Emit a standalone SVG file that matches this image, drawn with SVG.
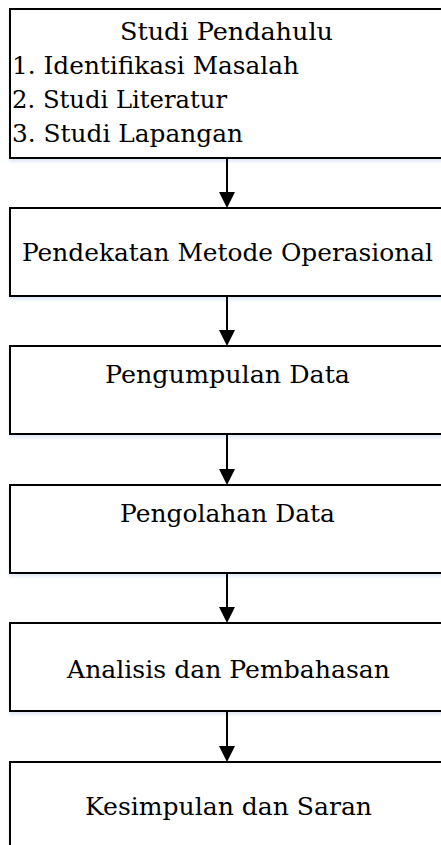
<svg xmlns="http://www.w3.org/2000/svg" width="441" height="845" viewBox="0 0 441 845">
  <style>
    .box { fill: #ffffff; stroke: #000000; stroke-width: 2; }
    .lbl { font-family: "DejaVu Serif", "Liberation Serif", serif; font-size: 24px; fill: #000000; }
    .conn { stroke: #000000; stroke-width: 2; fill: none; }
    .head { fill: #000000; }
  </style>
  <defs>
    <filter id="haze" x="-5%" y="-5%" width="110%" height="120%">
      <feDropShadow dx="0" dy="3" stdDeviation="1.5" flood-color="#c8d6ec" flood-opacity="0.5"/>
    </filter>
  </defs>
  <rect width="441" height="845" fill="#ffffff"/>

  <g id="node-studi-pendahulu">
    <rect class="box" x="10" y="9" width="440" height="149" filter="url(#haze)"/>
    <text class="lbl" x="120" y="40" textLength="213" lengthAdjust="spacingAndGlyphs">Studi Pendahulu</text>
    <text class="lbl" x="12" y="74" textLength="287" lengthAdjust="spacingAndGlyphs">1. Identifikasi Masalah</text>
    <text class="lbl" x="12" y="108" textLength="215" lengthAdjust="spacingAndGlyphs">2. Studi Literatur</text>
    <text class="lbl" x="12" y="142" textLength="231" lengthAdjust="spacingAndGlyphs">3. Studi Lapangan</text>
  </g>

  <g id="node-pendekatan">
    <rect class="box" x="10" y="208" width="440" height="88" filter="url(#haze)"/>
    <text class="lbl" x="22" y="261" textLength="411" lengthAdjust="spacingAndGlyphs">Pendekatan Metode Operasional</text>
  </g>

  <g id="node-pengumpulan">
    <rect class="box" x="10" y="346" width="440" height="88" filter="url(#haze)"/>
    <text class="lbl" x="105" y="383" textLength="245" lengthAdjust="spacingAndGlyphs">Pengumpulan Data</text>
  </g>

  <g id="node-pengolahan">
    <rect class="box" x="10" y="485" width="440" height="88" filter="url(#haze)"/>
    <text class="lbl" x="120" y="522" textLength="215" lengthAdjust="spacingAndGlyphs">Pengolahan Data</text>
  </g>

  <g id="node-analisis">
    <rect class="box" x="10" y="623" width="440" height="88" filter="url(#haze)"/>
    <text class="lbl" x="67" y="678" textLength="323" lengthAdjust="spacingAndGlyphs">Analisis dan Pembahasan</text>
  </g>

  <g id="node-kesimpulan">
    <rect class="box" x="10" y="762" width="440" height="100" filter="url(#haze)"/>
    <text class="lbl" x="85" y="815" textLength="287" lengthAdjust="spacingAndGlyphs">Kesimpulan dan Saran</text>
  </g>

  <g id="connectors">
    <line class="conn" x1="227" y1="159" x2="227" y2="194"/>
    <polygon class="head" points="219,192 235,192 227,208"/>
    <line class="conn" x1="227" y1="297" x2="227" y2="332"/>
    <polygon class="head" points="219,330 235,330 227,346"/>
    <line class="conn" x1="227" y1="435" x2="227" y2="471"/>
    <polygon class="head" points="219,469 235,469 227,485"/>
    <line class="conn" x1="227" y1="574" x2="227" y2="609"/>
    <polygon class="head" points="219,607 235,607 227,623"/>
    <line class="conn" x1="227" y1="712" x2="227" y2="748"/>
    <polygon class="head" points="219,746 235,746 227,762"/>
  </g>
</svg>
